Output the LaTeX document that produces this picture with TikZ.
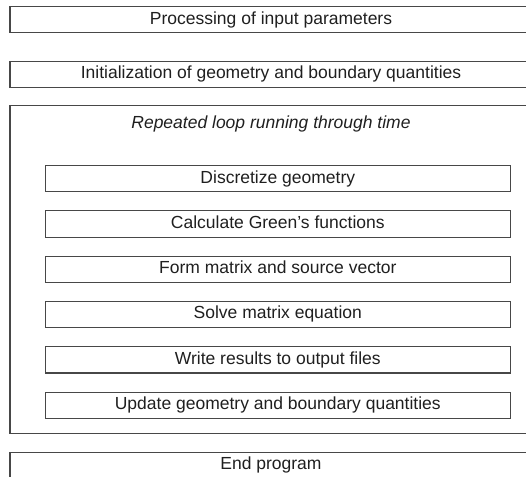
\documentclass[tikz,border=0pt]{standalone}
\usepackage{fontspec}
\setmainfont{Liberation Sans}
\begin{document}
\begin{tikzpicture}[x=1pt,y=-1pt,
  box/.style={draw=black!72, line width=1.1pt, rectangle, inner sep=0pt,
    text=black!88, font=\fontsize{17.5}{21}\selectfont,
    text height=12.5pt, text depth=3.7pt},
  outerbox/.style={box, minimum width=522pt, minimum height=26.5pt},
  innerbox/.style={box, minimum width=465pt, minimum height=26.3pt}]
\useasboundingbox (0,0) rectangle (526,476);
\clip (0,0) rectangle (526,476);
\node[outerbox] (proc) at (271,19.65) {Processing of input parameters};
\node[outerbox] (init) at (271,74.5) {Initialization of geometry and boundary quantities};
\node[box, minimum width=522pt, minimum height=328pt] (loop) at (271,269.3) {};
\node[text=black!88, font=\fontsize{17.5}{21}\selectfont\itshape, inner sep=0pt,
  text height=12.5pt, text depth=3.7pt] (looplabel) at (271,123.6) {Repeated loop running through time};
\node[innerbox] (disc) at (277.8,178.7) {Discretize geometry};
\node[innerbox] (green) at (277.8,223.9) {Calculate Green’s functions};
\node[innerbox] (form) at (277.8,269.2) {Form matrix and source vector};
\node[innerbox] (solve) at (277.8,314.5) {Solve matrix equation};
\node[innerbox] (write) at (277.8,359.8) {Write results to output files};
\node[innerbox] (update) at (277.8,405.2) {Update geometry and boundary quantities};
\node[outerbox] (endp) at (271,465.3) {End program};
\end{tikzpicture}
\end{document}
